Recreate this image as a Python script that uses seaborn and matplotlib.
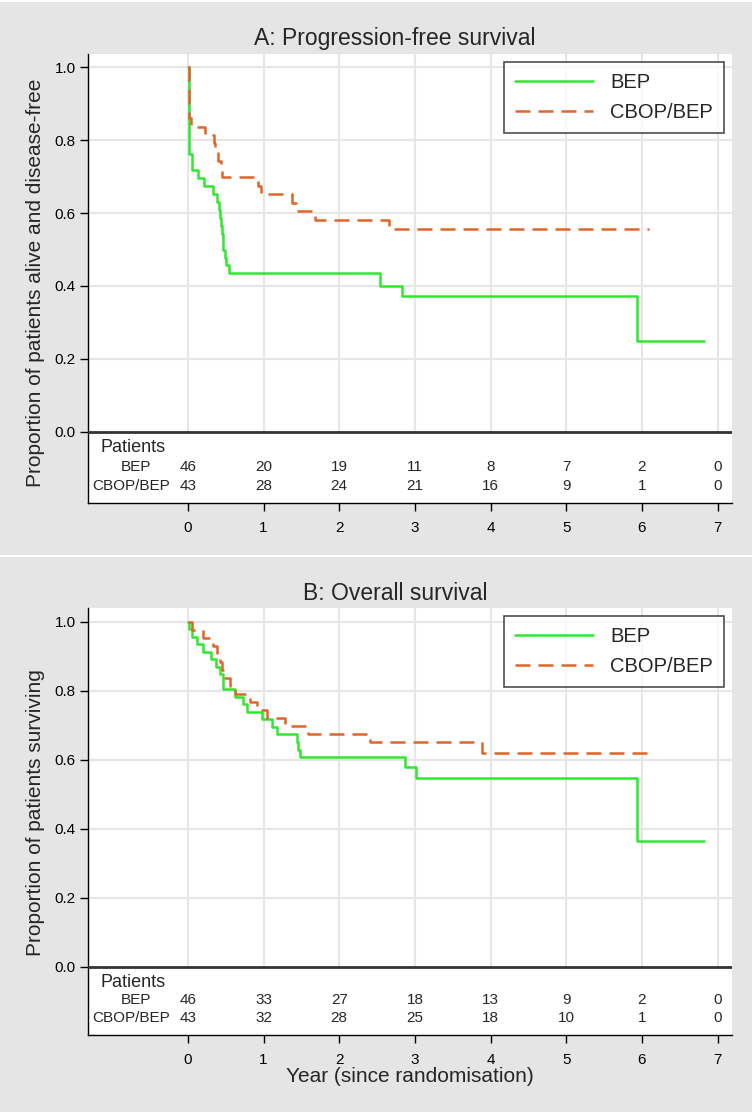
import pandas as pd
import seaborn as sns
import matplotlib.pyplot as plt
from matplotlib.patches import Rectangle

# progression-free survival (years, proportion)
pfs_bep_t = [0, 0.01, 0.057, 0.137, 0.216, 0.326, 0.379, 0.414, 0.43, 0.44, 0.45,
             0.46, 0.47, 0.49, 0.51, 0.546, 2.54, 2.83, 5.93, 6.82]
pfs_bep_s = [1.0, 0.761, 0.717, 0.696, 0.674, 0.652, 0.630, 0.609, 0.587, 0.565, 0.543,
             0.522, 0.500, 0.478, 0.457, 0.435, 0.401, 0.372, 0.248, 0.248]
pfs_cbop_t = [0, 0.01, 0.035, 0.225, 0.348, 0.36, 0.392, 0.44, 0.454, 0.929, 0.96,
              1.37, 1.435, 1.686, 2.66, 6.09]
pfs_cbop_s = [1.0, 0.860, 0.837, 0.814, 0.791, 0.767, 0.744, 0.721, 0.698, 0.674, 0.651,
              0.628, 0.605, 0.581, 0.557, 0.557]

# overall survival
os_bep_t = [0, 0.02, 0.0485, 0.115, 0.194, 0.299, 0.37, 0.423, 0.458, 0.467, 0.62, 0.73,
            0.784, 0.973, 1.105, 1.171, 1.444, 1.46, 1.488, 2.875, 3.012, 5.93, 6.82]
os_bep_s = [1.0, 0.978, 0.957, 0.935, 0.913, 0.891, 0.870, 0.848, 0.826, 0.804, 0.783, 0.761,
            0.739, 0.717, 0.696, 0.674, 0.652, 0.630, 0.609, 0.580, 0.548, 0.365, 0.365]
os_cbop_t = [0, 0.0485, 0.203, 0.326, 0.379, 0.423, 0.445, 0.489, 0.555, 0.62, 0.819,
             0.907, 1.04, 1.28, 1.59, 2.40, 3.88, 6.09]
os_cbop_s = [1.0, 0.977, 0.953, 0.930, 0.907, 0.884, 0.860, 0.837, 0.814, 0.791, 0.767,
             0.744, 0.721, 0.698, 0.674, 0.651, 0.619, 0.619]

years = [0, 1, 2, 3, 4, 5, 6, 7]
pfs_risk_bep = [46, 20, 19, 11, 8, 7, 2, 0]
pfs_risk_cbop = [43, 28, 24, 21, 16, 9, 1, 0]
os_risk_bep = [46, 33, 27, 18, 13, 9, 2, 0]
os_risk_cbop = [43, 32, 28, 25, 18, 10, 1, 0]

sns.set_style("white")
plt.rcParams['font.family'] = ['Liberation Sans', 'DejaVu Sans']

GREEN = '#2ee82e'
ORANGE = '#e0652b'
GRID = '#e6e6e6'

fig = plt.figure(figsize=(7.54, 11.12), dpi=100)
fig.patch.set_facecolor('white')
fig.add_artist(Rectangle((0, 557 / 1112), 752 / 754, 553 / 1112, transform=fig.transFigure,
                         facecolor='#e5e5e5', edgecolor='none', zorder=-10))
fig.add_artist(Rectangle((0, 0), 752 / 754, 555 / 1112, transform=fig.transFigure,
                         facecolor='#e5e5e5', edgecolor='none', zorder=-10))


def panel(rect, title, title_y, ylabel, ylab_y, bep, cbop, risk_bep, risk_cbop, ytop, ybot, xlabel=None):
    ax = fig.add_axes(rect)
    ax.set_facecolor('white')
    ax.set_xlim(-1.32, 7.19)
    ax.set_ylim(ybot, ytop)

    # grid only in the curve area
    for x in years:
        ax.plot([x, x], [0, ytop], color=GRID, lw=1.5, zorder=1)
    for y in [0.2, 0.4, 0.6, 0.8, 1.0]:
        ax.axhline(y, color=GRID, lw=1.5, zorder=1)
    ax.axhline(0, color='#333333', lw=2.0, zorder=3)

    d1 = pd.DataFrame({'t': bep[0], 's': bep[1]})
    d2 = pd.DataFrame({'t': cbop[0], 's': cbop[1]})
    sns.lineplot(data=d1, x='t', y='s', ax=ax, estimator=None, drawstyle='steps-post',
                 color=GREEN, lw=1.8, label='BEP', zorder=4)
    sns.lineplot(data=d2, x='t', y='s', ax=ax, estimator=None, drawstyle='steps-post',
                 color=ORANGE, lw=1.8, linestyle=(0, (6, 3.2)), label='CBOP/BEP', zorder=5)

    leg = ax.legend(loc='upper right', bbox_to_anchor=(0.988, 0.982), borderaxespad=0,
                    fontsize=14.5, frameon=True, fancybox=False, edgecolor='#222222',
                    handlelength=3.9, handletextpad=0.85, labelspacing=0.55, borderpad=0.55)
    leg.get_frame().set_linewidth(1.2)

    # patients at risk
    ax.text(-1.15, -0.044, 'Patients', fontsize=13, ha='left', va='center')
    ax.text(-0.49, -0.096, 'BEP', fontsize=11, ha='right', va='center')
    ax.text(-0.23, -0.148, 'CBOP/BEP', fontsize=11, ha='right', va='center')
    for x, a, b in zip(years, risk_bep, risk_cbop):
        ax.text(x, -0.096, str(a), fontsize=11, ha='center', va='center')
        ax.text(x, -0.148, str(b), fontsize=11, ha='center', va='center')

    ax.set_xticks(years)
    ax.set_yticks([0, 0.2, 0.4, 0.6, 0.8, 1.0])
    ax.set_yticklabels(['0.0', '0.2', '0.4', '0.6', '0.8', '1.0'])
    ax.tick_params(axis='both', direction='out', length=6, width=1, labelsize=11,
                   colors='black', bottom=True, left=True)
    ax.tick_params(axis='x', pad=7)
    ax.tick_params(axis='y', pad=3)
    for side in ['top', 'right']:
        ax.spines[side].set_visible(False)
    for side in ['left', 'bottom']:
        ax.spines[side].set_color('black')
        ax.spines[side].set_linewidth(1.0)

    ax.set_ylabel(ylabel, fontsize=15)
    ax.yaxis.set_label_coords(-0.066, ylab_y)
    if xlabel:
        ax.set_xlabel(xlabel, fontsize=15, labelpad=0)
    else:
        ax.set_xlabel('')
    fig.text(395 / 754, 1 - title_y / 1112, title, fontsize=16.5, ha='center', va='center')
    return ax


W = 754
H = 1112
panel([88 / W, 1 - 503 / H, 644 / W, 449 / H], 'A: Progression-free survival', 39,
      'Proportion of patients alive and disease-free', 0.49,
      (pfs_bep_t, pfs_bep_s), (pfs_cbop_t, pfs_cbop_s), pfs_risk_bep, pfs_risk_cbop,
      1.036, -0.195)
panel([88 / W, 1 - 1035 / H, 644 / W, 427 / H], 'B: Overall survival', 594,
      'Proportion of patients surviving', 0.52,
      (os_bep_t, os_bep_s), (os_cbop_t, os_cbop_s), os_risk_bep, os_risk_cbop,
      1.04, -0.197, xlabel='Year (since randomisation)')

fig.savefig('out.png', dpi=100)
